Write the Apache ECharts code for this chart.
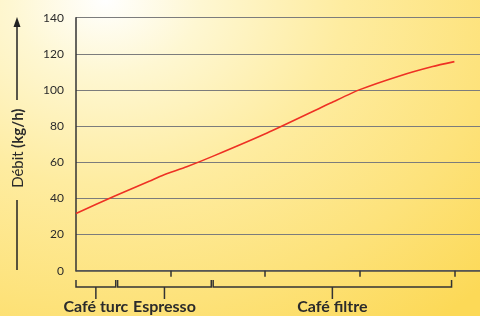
<!DOCTYPE html>
<html>
<head>
<meta charset="utf-8">
<script src="https://cdn.jsdelivr.net/npm/echarts@6/dist/echarts.min.js"></script>
<style>
  html, body { margin: 0; padding: 0; }
  #chart {
    width: 480px; height: 316px;
    background: radial-gradient(ellipse 110% 130% at 22% 0%, #ffffff 0%, #fef7d2 18%, #feeca0 45%, #fde27a 75%, #fcd957 100%);
  }
</style>
</head>
<body>
<div id="chart"></div>
<script>
// courbe de débit
const flowX = [0, 0.41, 0.78, 0.92, 1.17, 1.45, 2.02, 2.72, 3.0, 3.42, 3.77, 4.0];
const flowY = [31.7, 41.3, 49.6, 52.8, 57.5, 63.4, 76.2, 93.5, 100.2, 107.8, 113, 115.7];

// plages de mouture
const brewNames = ['Café turc', 'Espresso', 'Café filtre'];
const brewStart = [0, 0.44, 1.45];
const brewEnd = [0.42, 1.43, 3.97];

const yTicks = [0, 20, 40, 60, 80, 100, 120, 140];
const xTicks = [1, 2, 3, 4];

const chart = echarts.init(document.getElementById('chart'), null, { renderer: 'canvas' });

const dark = '#2b2b2b';

const option = {
  backgroundColor: 'transparent',
  animation: false,
  grid: { left: 76, right: 0, top: 17.7, bottom: 45.3, outerBoundsMode: 'none', containLabel: false },
  xAxis: {
    type: 'value',
    min: 0,
    max: 404 / 94.6,
    interval: 1,
    axisLine: { show: true, lineStyle: { color: '#4a4a4a', width: 1.5 } },
    axisTick: { show: true, customValues: xTicks, length: 6, inside: false, lineStyle: { color: '#333', width: 1.5 } },
    axisLabel: { show: false },
    splitLine: { show: false }
  },
  yAxis: {
    type: 'value',
    min: yTicks[0],
    max: yTicks[yTicks.length - 1],
    interval: 20,
    axisLine: { show: true, lineStyle: { color: '#333', width: 1.5 } },
    axisTick: { show: false },
    axisLabel: { color: dark, fontFamily: 'Lato', fontSize: 12, margin: 12 },
    splitLine: { show: true, lineStyle: { color: '#7c7c7c', width: 1.2 } },
    name: '{n|Débit} {b|(kg/h)}',
    nameLocation: 'middle',
    nameRotate: 90,
    nameGap: 50,
    nameTextStyle: {
      padding: [0, 8, 0, 0],
      rich: {
        n: { fontFamily: 'Lato', fontSize: 15, color: dark },
        b: { fontFamily: 'Lato', fontSize: 15, fontWeight: 'bold', color: dark }
      }
    }
  },
  graphic: [
    { type: 'line', shape: { x1: 17, y1: 100, x2: 17, y2: 24 }, style: { stroke: '#222', lineWidth: 1.5 } },
    { type: 'polygon', shape: { points: [[17, 17], [13.5, 27], [20.5, 27]] }, style: { fill: '#222' } },
    { type: 'line', shape: { x1: 17, y1: 200, x2: 17, y2: 270 }, style: { stroke: '#222', lineWidth: 1.5 } }
  ],
  series: [
    {
      type: 'line',
      data: flowX.map((x, i) => [x, flowY[i]]),
      smooth: 0.2,
      showSymbol: false,
      lineStyle: { color: '#ee3124', width: 1.6 },
      z: 5
    },
    {
      type: 'custom',
      data: brewNames.map((n, i) => [brewStart[i], brewEnd[i]]),
      encode: { x: [0, 1] },
      renderItem: function (params, api) {
        const x0 = api.coord([api.value(0), 0])[0];
        const x1 = api.coord([api.value(1), 0])[0];
        const xc = (x0 + x1) / 2;
        const st = { stroke: '#333', lineWidth: 1.5, fill: null };
        return {
          type: 'group',
          children: [
            { type: 'polyline', shape: { points: [[x0, 280], [x0, 287], [x1, 287], [x1, 280]] }, style: st },
            { type: 'line', shape: { x1: xc, y1: 287, x2: xc, y2: 299 }, style: st },
            {
              type: 'text',
              style: {
                text: brewNames[params.dataIndex],
                x: xc, y: 307,
                align: 'center', verticalAlign: 'middle',
                font: 'bold 16px Lato',
                fill: dark
              }
            }
          ]
        };
      }
    }
  ]
};

chart.setOption(option);
</script>
</body>
</html>
